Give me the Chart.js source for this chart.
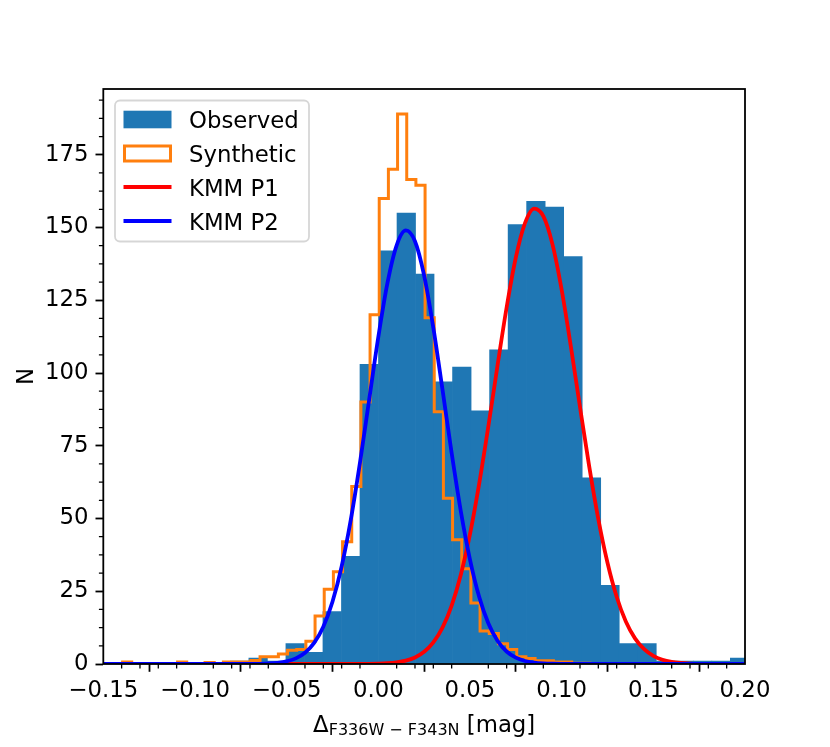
<!DOCTYPE html>
<html><head><meta charset="utf-8">
<script src="https://cdn.jsdelivr.net/npm/chart.js@4.4.0/dist/chart.umd.min.js"></script>
<style>html,body{margin:0;padding:0;background:#fff;}canvas{display:block;}</style>
</head><body>
<canvas id="c" width="830" height="747"></canvas>
<script>
// ---------- data ----------
const xTicks = [-0.15, -0.10, -0.05, 0.00, 0.05, 0.10, 0.15, 0.20];
const yTicks = [0, 25, 50, 75, 100, 125, 150, 175];
const seriesNames = ['Observed', 'Synthetic', 'KMM P1', 'KMM P2'];
const xTitleMain = '\u0394';
const xTitleSub = 'F336W \u2212 F343N';
const xTitleUnit = ' [mag]';
const yTitle = 'N';

// Observed histogram: left bin edges and counts
const obsBinLeft = [-0.1413, -0.1312, -0.1211, -0.1110, -0.1009, -0.0908, -0.0807, -0.0706, -0.0605, -0.0504,
  -0.0403, -0.0302, -0.0201, -0.0100, 0.0001, 0.0102, 0.0203, 0.0304, 0.0405, 0.0506,
  0.0607, 0.0708, 0.0809, 0.0910, 0.1011, 0.1112, 0.1213, 0.1314, 0.1415, 0.1516,
  0.1617, 0.1718, 0.1819, 0.1920];
const obsCounts = [0, 0, 0, 0, 0, 0, 1, 2, 1, 7,
  4, 18, 37, 103, 142, 155, 134, 97, 102, 87,
  108, 151, 159, 157, 140, 64, 27, 7, 7, 1,
  1, 1, 1, 2];

// Synthetic histogram (step outline): bin edges (n+1) and counts (n)
const synthEdges = [-0.1445, -0.1395, -0.1345, -0.1295, -0.1245, -0.1195, -0.1145, -0.1095, -0.1045, -0.0995,
  -0.0945, -0.0895, -0.0845, -0.0795, -0.0745, -0.0695, -0.0645, -0.0595, -0.0545, -0.0495,
  -0.0445, -0.0395, -0.0345, -0.0295, -0.0245, -0.0195, -0.0145, -0.0095, -0.0045, 0.0005,
  0.0055, 0.0105, 0.0155, 0.0205, 0.0255, 0.0305, 0.0355, 0.0405, 0.0455, 0.0505,
  0.0555, 0.0605, 0.0655, 0.0705, 0.0755, 0.0805, 0.0855, 0.0905, 0.0955, 0.1005,
  0.1055, 0.1105, 0.1155];
const synthCounts = [0, 0.7, 0, 0, 0, 0, 0, 0.7, 0, 0,
  0.5, 0, 0.7, 0.7, 0.7, 1.2, 2.5, 2.5, 3.4, 4.7,
  5, 7.8, 16.5, 25.7, 31.7, 42, 61, 90, 120, 160,
  170, 189, 166.5, 164.5, 119, 86.7, 57, 42.7, 32.7, 21,
  11.3, 10.5, 7, 5, 2.5, 1.9, 1.1, 1.1, 0.7, 0.7,
  0.3, 0.3];

// KMM fitted components, sampled
const curveX = [-0.15, -0.12, -0.10, -0.09, -0.08, -0.075, -0.07, -0.065, -0.06, -0.055,
  -0.05, -0.045, -0.04, -0.035, -0.03, -0.025, -0.02, -0.015, -0.01, -0.005,
  0.0, 0.005, 0.01, 0.015, 0.02, 0.025, 0.03, 0.035, 0.04, 0.045,
  0.05, 0.055, 0.06, 0.065, 0.07, 0.075, 0.08, 0.085, 0.09, 0.095,
  0.10, 0.105, 0.11, 0.115, 0.12, 0.125, 0.13, 0.135, 0.14, 0.145,
  0.15, 0.155, 0.16, 0.165, 0.17, 0.175, 0.18, 0.19, 0.20];
const kmmP1 = [0, 0, 0, 0, 0, 0, 0, 0, 0, 0,
  0, 0, 0, 0, 0, 0, 0, 0, 0.02, 0.05,
  0.12, 0.26, 0.57, 1.16, 2.26, 4.2, 7.43, 12.5, 20.1, 30.7,
  44.6, 61.9, 81.6, 102.5, 122.6, 139.7, 151.5, 156.5, 153.9, 144.2,
  128.6, 109.2, 88.3, 68.0, 49.8, 34.8, 23.1, 14.6, 8.8, 5.07,
  2.77, 1.44, 0.71, 0.34, 0.15, 0.06, 0.03, 0, 0];
const kmmP2 = [0, 0, 0, 0, 0.003, 0.01, 0.03, 0.07, 0.17, 0.41,
  0.92, 1.94, 3.86, 7.26, 12.8, 21.4, 33.5, 49.6, 69.2, 90.8,
  112.4, 131.0, 143.9, 149.0, 145.3, 133.5, 115.6, 94.3, 72.5, 52.5,
  35.9, 23.1, 14.0, 8.0, 4.29, 2.18, 1.04, 0.47, 0.2, 0.08,
  0.03, 0.01, 0, 0, 0, 0, 0, 0, 0, 0,
  0, 0, 0, 0, 0, 0, 0, 0, 0];

// ---------- styling ----------
const C_OBS = '#1f77b4', C_SYN = '#ff7f0e', C_P1 = '#ff0000', C_P2 = '#0000ff';
const FONT = 'DejaVu Sans';
const FS = 22.8;
const X_MIN = -0.15, X_MAX = 0.20, Y_MIN = 0, Y_MAX = 197.6;
const X_MINOR = 0.01, Y_MINOR = 6.25;

const obsWidth = obsBinLeft[1] - obsBinLeft[0];
const obsData = obsBinLeft.map((e, i) => ({ x: e + obsWidth / 2, y: obsCounts[i] }));
const synthData = synthEdges.map((e, i) => ({ x: e, y: i < synthCounts.length ? synthCounts[i] : 0 }));
const p1Data = curveX.map((x, i) => ({ x: x, y: kmmP1[i] }));
const p2Data = curveX.map((x, i) => ({ x: x, y: kmmP2[i] }));

const fmt = v => (Math.abs(v) < 1e-9 ? 0 : v).toFixed(2).replace('-', '\u2212');

const framePlugin = {
  id: 'frame',
  afterDatasetsDraw(chart) {
    const { ctx, chartArea: a, scales } = chart;
    const xs = scales.x, ys = scales.y;
    ctx.save();
    ctx.strokeStyle = '#000';
    ctx.lineWidth = 1.3;
    ctx.beginPath();
    for (let k = 0; ; k++) {
      const v = X_MIN + k * X_MINOR;
      if (v > X_MAX + 1e-9) break;
      if (xTicks.some(t => Math.abs(t - v) < 1e-6)) continue;
      const px = xs.getPixelForValue(v);
      ctx.moveTo(px, a.bottom); ctx.lineTo(px, a.bottom + 4.4);
    }
    for (let k = 0; ; k++) {
      const v = Y_MIN + k * Y_MINOR;
      if (v > Y_MAX + 1e-9) break;
      if (yTicks.some(t => Math.abs(t - v) < 1e-6)) continue;
      const py = ys.getPixelForValue(v);
      ctx.moveTo(a.left, py); ctx.lineTo(a.left - 4.4, py);
    }
    ctx.stroke();
    ctx.lineWidth = 1.8;
    ctx.strokeRect(a.left, a.top, a.right - a.left, a.bottom - a.top);
    ctx.restore();
  },
  afterDraw(chart) {
    const { ctx, chartArea: a } = chart;
    ctx.save();
    const lx = 115, ly = 100.5, lw = 194, lh = 141, r = 5;
    ctx.beginPath();
    ctx.moveTo(lx + r, ly);
    ctx.arcTo(lx + lw, ly, lx + lw, ly + lh, r);
    ctx.arcTo(lx + lw, ly + lh, lx, ly + lh, r);
    ctx.arcTo(lx, ly + lh, lx, ly, r);
    ctx.arcTo(lx, ly, lx + lw, ly, r);
    ctx.closePath();
    ctx.fillStyle = 'rgba(255,255,255,0.8)';
    ctx.fill();
    ctx.strokeStyle = 'rgba(204,204,204,0.8)';
    ctx.lineWidth = 1.8;
    ctx.stroke();
    const rowY = [119.5, 153.5, 187, 221];
    const hx = 123.5, hw = 48;
    ctx.fillStyle = C_OBS;
    ctx.fillRect(hx, rowY[0] - 8.8, hw, 17.6);
    ctx.strokeStyle = C_SYN; ctx.lineWidth = 3;
    ctx.strokeRect(hx + 1, rowY[1] - 7.5, hw - 2, 15);
    ctx.lineWidth = 3.8; ctx.lineCap = 'butt';
    ctx.strokeStyle = C_P1; ctx.beginPath(); ctx.moveTo(hx, rowY[2]); ctx.lineTo(hx + hw, rowY[2]); ctx.stroke();
    ctx.strokeStyle = C_P2; ctx.beginPath(); ctx.moveTo(hx, rowY[3]); ctx.lineTo(hx + hw, rowY[3]); ctx.stroke();
    ctx.fillStyle = '#000';
    ctx.font = FS + 'px "' + FONT + '"';
    ctx.textBaseline = 'alphabetic';
    ctx.textAlign = 'left';
    seriesNames.forEach((n, i) => ctx.fillText(n, 189, rowY[i] + 8.6));
    const subFS = 16;
    const mainFont = FS + 'px "' + FONT + '"', subFont = subFS + 'px "' + FONT + '"';
    ctx.font = mainFont; const w1 = ctx.measureText(xTitleMain).width;
    const w3 = ctx.measureText(xTitleUnit).width;
    ctx.font = subFont; const w2 = ctx.measureText(xTitleSub).width;
    const total = w1 + w2 + w3;
    let x0 = (a.left + a.right) / 2 - total / 2;
    const base = 731.5;
    ctx.font = mainFont; ctx.fillText(xTitleMain, x0, base);
    ctx.font = subFont; ctx.fillText(xTitleSub, x0 + w1, base + 3.5);
    ctx.font = mainFont; ctx.fillText(xTitleUnit, x0 + w1 + w2, base);
    ctx.translate(27, (a.top + a.bottom) / 2);
    ctx.rotate(-Math.PI / 2);
    ctx.textAlign = 'center';
    ctx.textBaseline = 'middle';
    ctx.fillText(yTitle, 0, 0);
    ctx.restore();
  }
};

Chart.defaults.font.family = FONT;
Chart.defaults.font.size = FS;
Chart.defaults.color = '#000';

new Chart(document.getElementById('c'), {
  type: 'bar',
  data: {
    datasets: [
      { type: 'bar', label: seriesNames[0], data: obsData, backgroundColor: C_OBS, borderWidth: 0,
        barPercentage: 1.0, categoryPercentage: 1.0, order: 4 },
      { type: 'line', label: seriesNames[1], data: synthData, borderColor: C_SYN, borderWidth: 3,
        stepped: 'before', pointRadius: 0, fill: false, order: 3 },
      { type: 'line', label: seriesNames[2], data: p1Data, borderColor: C_P1, borderWidth: 3.8,
        cubicInterpolationMode: 'monotone', pointRadius: 0, fill: false, order: 2 },
      { type: 'line', label: seriesNames[3], data: p2Data, borderColor: C_P2, borderWidth: 3.8,
        cubicInterpolationMode: 'monotone', pointRadius: 0, fill: false, order: 1 }
    ]
  },
  options: {
    responsive: false,
    animation: false,
    devicePixelRatio: 1,
    layout: { padding: { top: 89, right: 85, left: 0, bottom: 0 } },
    plugins: { legend: { display: false }, tooltip: { enabled: false } },
    scales: {
      x: {
        type: 'linear', min: X_MIN, max: X_MAX, offset: false,
        afterBuildTicks: s => { s.ticks = xTicks.map(v => ({ value: v })); },
        afterFit: s => { s.height = 83; },
        ticks: { callback: v => fmt(v), padding: 6, maxRotation: 0, autoSkip: false, color: '#000', font: { size: FS } },
        grid: { display: true, drawOnChartArea: false, drawTicks: true, tickLength: 7.8, tickWidth: 1.8, tickColor: '#000', color: '#000' },
        border: { display: false }
      },
      y: {
        type: 'linear', min: Y_MIN, max: Y_MAX,
        afterBuildTicks: s => { s.ticks = yTicks.map(v => ({ value: v })); },
        afterFit: s => { s.width = 103.3; },
        ticks: { callback: v => String(v), padding: 7, color: '#000', font: { size: FS } },
        grid: { display: true, drawOnChartArea: false, drawTicks: true, tickLength: 7.8, tickWidth: 1.8, tickColor: '#000', color: '#000' },
        border: { display: false }
      }
    }
  },
  plugins: [framePlugin]
});
</script>
</body></html>
